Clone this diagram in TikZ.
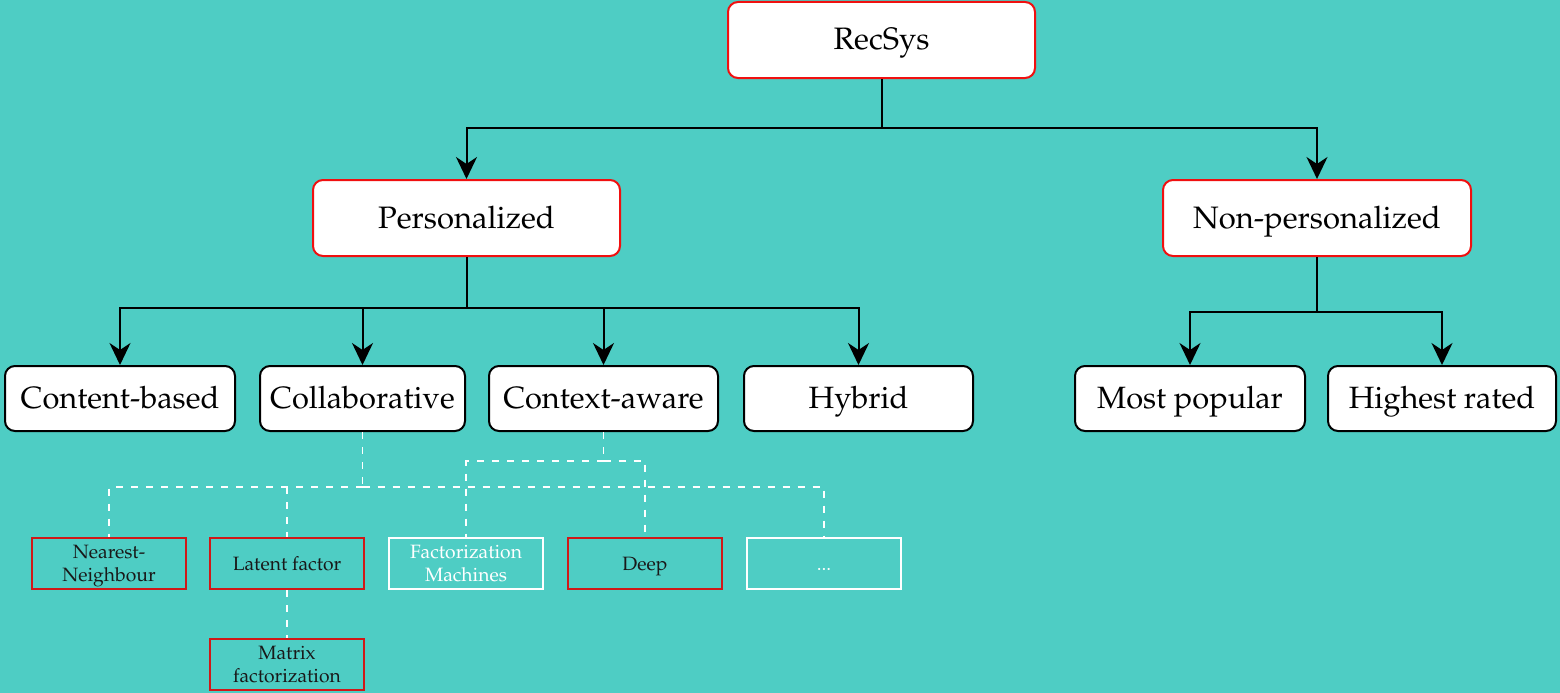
\documentclass[tikz,border=0pt]{standalone}
\usepackage[T1]{fontenc}
\usepackage{mathpazo}
\usetikzlibrary{arrows.meta}
\definecolor{teal bg}{HTML}{4ECDC4}
\definecolor{boxred}{HTML}{F01010}
\definecolor{subred}{HTML}{D01818}
\tikzset{
  topbox/.style={draw=boxred, line width=2pt, fill=white, rounded corners=10pt,
    minimum width=307pt, minimum height=76pt, font=\fontsize{31}{34}\selectfont,
    inner sep=0pt, text height=20pt, text depth=0pt},
  midbox/.style={draw=black, line width=2pt, fill=white, rounded corners=10pt,
    minimum height=65pt, font=\fontsize{30.8}{34}\selectfont,
    inner sep=0pt, text height=20pt, text depth=0pt},
  leafbox/.style={draw=subred, line width=2.5pt, minimum width=154pt, minimum height=51pt,
    font=\fontsize{19.3}{23}\selectfont, align=center, inner sep=0pt, text=black!90,
    text height=13pt, text depth=0pt},
  twolines/.style={text height=36pt, text depth=0pt},
  ghostbox/.style={leafbox, draw=white, text=white, line width=1.6pt},
  tree/.style={draw=black, line width=2pt, -{Stealth[length=22pt,width=21pt,inset=7pt]}},
  link/.style={draw=white, line width=1.8pt, dash pattern=on 7pt off 8pt},
}
\begin{document}
\begin{tikzpicture}[x=1pt, y=-1pt]
\fill[teal bg] (0,0) rectangle (1560,693);
\useasboundingbox (0,0) rectangle (1560,693);

% top level
\node[topbox] (rec) at (881.5,40) {RecSys};
\node[topbox] (pers) at (466.5,218) {Personalized};
\node[topbox, minimum width=308pt] (nonp) at (1317,218) {Non-personalized};

% second level
\node[midbox, minimum width=230pt] (cb) at (120,398.5) {Content-based};
\node[midbox, minimum width=205pt] (cf) at (362.5,398.5) {Collaborative};
\node[midbox, minimum width=229pt] (ca) at (603.5,398.5) {Context-aware};
\node[midbox, minimum width=229pt] (hy) at (858.5,398.5) {Hybrid};
\node[midbox, minimum width=230pt] (mp) at (1190,398.5) {Most popular};
\node[midbox, minimum width=228pt] (hr) at (1442,398.5) {Highest rated};

% leaves
\node[leafbox, twolines] (nn) at (109,563.5) {Nearest-\\Neighbour};
\node[leafbox] (lf) at (287,563.5) {Latent factor};
\node[ghostbox, twolines] (fm) at (466,563.5) {Factorization\\Machines};
\node[leafbox] (dp) at (645,563.5) {Deep};
\node[ghostbox] (etc) at (824,563.5) {...};
\node[leafbox, twolines] (mf) at (287,664.5) {Matrix\\factorization};

% solid tree
\draw[tree] (rec.south) |- (881.5,128) -| (pers.north);
\draw[tree] (rec.south) |- (881.5,128) -| (nonp.north);
\draw[tree] (pers.south) |- (463,308) -| (cb.north);
\draw[tree] (pers.south) |- (463,308) -| (cf.north);
\draw[tree] (pers.south) |- (463,308) -| (ca.north);
\draw[tree] (pers.south) |- (463,308) -| (hy.north);
\draw[tree] (nonp.south) |- (1317,312) -| (mp.north);
\draw[tree] (nonp.south) |- (1317,312) -| (hr.north);

% dashed links
\coordinate (cfj) at (362.5,487);
\coordinate (caj) at (603.5,461);
\draw[link] (cf.south) -- (cfj);
\draw[link] (cfj) -| (nn.north);
\draw[link] (cfj) -| (etc.north);
\draw[link] (lf.north |- cfj) -- (lf.north);
\draw[link] (ca.south) -- (caj);
\draw[link] (caj) -| (fm.north);
\draw[link] (caj) -| (dp.north);
\draw[link] (lf.south) -- (mf.north);
\end{tikzpicture}
\end{document}
